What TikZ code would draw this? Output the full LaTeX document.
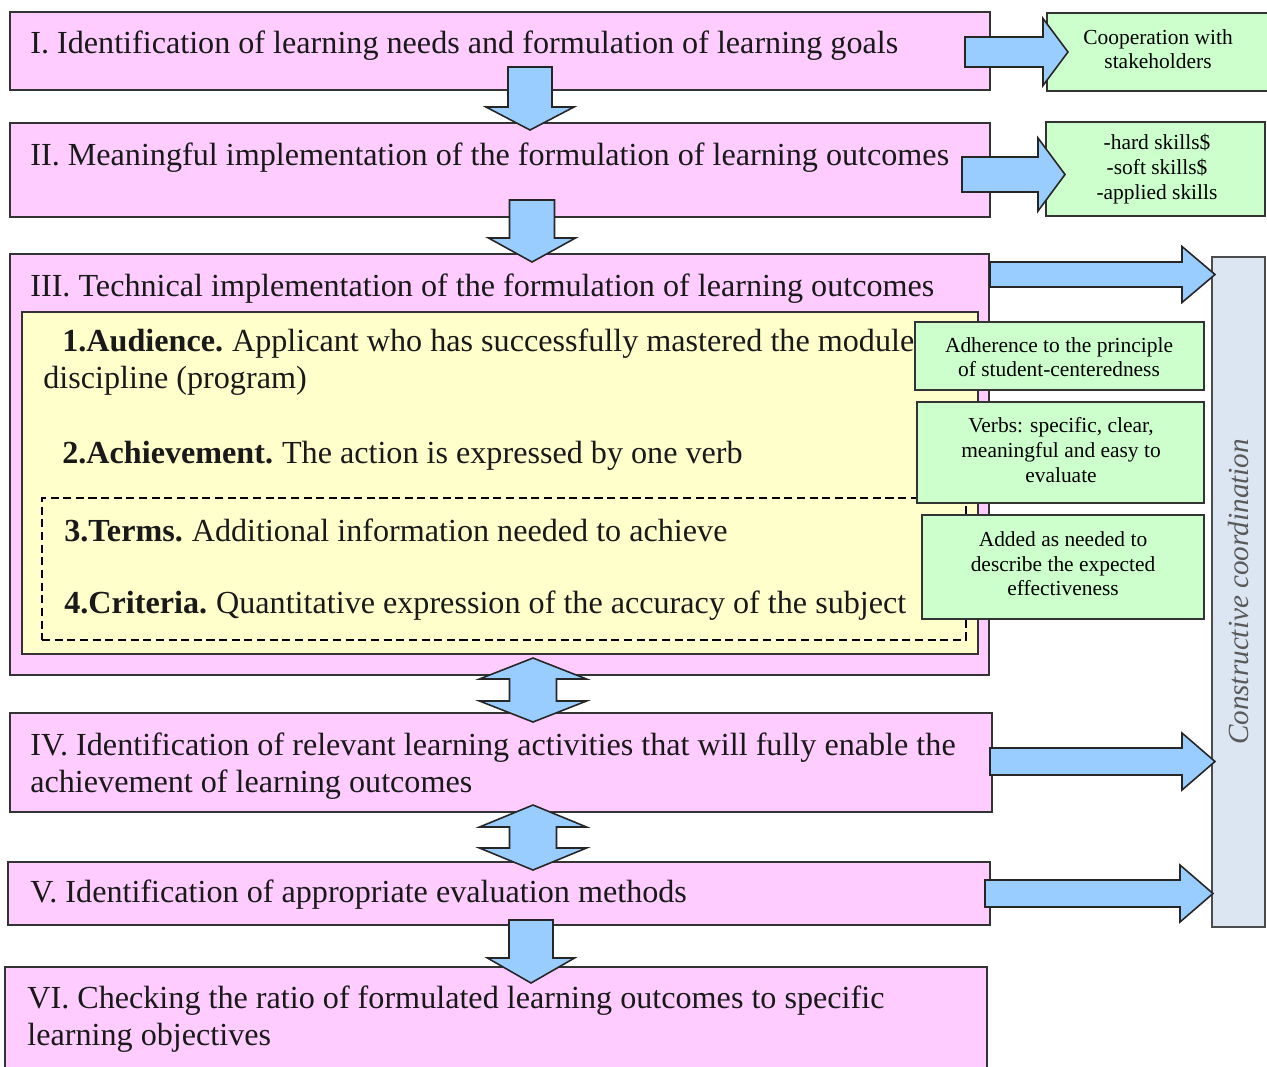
\documentclass[tikz,border=0pt]{standalone}
\usepackage{fontspec}
\setmainfont{Liberation Serif}
\usepackage{xcolor}
\usetikzlibrary{positioning, fit, calc}

\definecolor{stagepink}{HTML}{FFCCFF}
\definecolor{partyellow}{HTML}{FFFFCC}
\definecolor{notegreen}{HTML}{CCFFCC}
\definecolor{arrowblue}{HTML}{99CCFF}
\definecolor{barblue}{HTML}{DCE6F2}

\tikzset{
	stage/.style={draw=black!80, fill=stagepink, line width=1.1pt, inner sep=0pt},
	parts/.style={draw=black!80, fill=partyellow, line width=1.1pt, inner sep=0pt},
	optional/.style={draw=black, dash pattern=on 4.6pt off 2.6pt, line width=1.5pt, inner sep=0pt},
	note/.style={draw=black!80, fill=notegreen, line width=1.1pt, inner sep=0pt},
	notetext/.style={inner sep=0pt, align=center, text=black, font=\fontsize{12.2}{14}\selectfont},
	coordbar/.style={draw=black!70, fill=barblue, line width=1.1pt, inner sep=0pt},
	stagetext/.style={anchor=west, inner sep=0pt, align=left, text=black!90,
		font=\fontsize{18.3}{20.8}\selectfont},
	blockarrow/.style={draw=black!85, fill=arrowblue, line width=0.9pt, line join=miter}
}

% block arrows: tail, tip, shaft half width, head half width, head length
\newcommand{\downblock}[5]{
	\draw[blockarrow] ($(#1)+(-#3,0)$) -- ($(#1)+(#3,0)$) -- ($(#2)+(#3,-#5)$) -- ($(#2)+(#4,-#5)$)
		-- (#2) -- ($(#2)+(-#4,-#5)$) -- ($(#2)+(-#3,-#5)$) -- cycle;}
\newcommand{\rightblock}[5]{
	\draw[blockarrow] ($(#1)+(0,-#3)$) -- ($(#2)+(-#5,-#3)$) -- ($(#2)+(-#5,-#4)$)
		-- (#2) -- ($(#2)+(-#5,#4)$) -- ($(#2)+(-#5,#3)$) -- ($(#1)+(0,#3)$) -- cycle;}
\newcommand{\bothblock}[5]{
	\draw[blockarrow] (#1) -- ($(#1)+(#4,#5)$) -- ($(#1)+(#3,#5)$) -- ($(#2)+(#3,-#5)$) -- ($(#2)+(#4,-#5)$)
		-- (#2) -- ($(#2)+(-#4,-#5)$) -- ($(#2)+(-#3,-#5)$) -- ($(#1)+(-#3,#5)$) -- ($(#1)+(-#4,#5)$) -- cycle;}

\begin{document}
\begin{tikzpicture}[x=0.02cm, y=-0.02cm]
	\useasboundingbox[fill=white] (0,0) rectangle (1267,1066);

	% stages
	\node[stage, fit={(10,12) (990,90)}] (stageI) {};
	\node[stage, fit={(10,123) (990,217)}] (stageII) {};
	\node[stage, fit={(10,254) (989,675)}] (stageIII) {};
	\node[parts, fit={(22,312) (978,654)}] (parts) {};
	\node[optional, fit={(42,498) (966,640)}] (optional) {};
	\node[stage, fit={(10,713) (992,812)}] (stageIV) {};
	\node[stage, fit={(8,862) (990,925)}] (stageV) {};
	\node[stage, fit={(5,967) (987,1075)}] (stageVI) {};

	\node[stagetext] (textI) at (30,46) {I. Identification of learning needs and formulation of learning goals};
	\node[stagetext] (textII) at (30,158) {II. Meaningful implementation of the formulation of learning outcomes};
	\node[stagetext] (textIII) at (30,289) {III. Technical implementation of the formulation of learning outcomes};
	\node[stagetext] (audience) at (43,362) {\hspace*{0.38cm}\textbf{1.Audience.}\hspace{-1pt} Applicant who has successfully mastered the module\\discipline (program)};
	\node[stagetext] (achievement) at (62,456) {\textbf{2.Achievement.}\hspace{-1pt} The action is expressed by one verb};
	\node[stagetext] (terms) at (64,530) {\textbf{3.Terms.}\hspace{-1pt} Additional information needed to achieve};
	\node[stagetext] (criteria) at (64,606) {\textbf{4.Criteria.}\hspace{-1pt} Quantitative expression of the accuracy of the subject};
	\node[stagetext] (textIV) at (30,766) {IV. Identification of relevant learning activities that will fully enable the\\achievement of learning outcomes};
	\node[stagetext] (textV) at (30,895) {V. Identification of appropriate evaluation methods};
	\node[stagetext] (textVI) at (27,1019) {VI. Checking the ratio of formulated learning outcomes to specific\\learning objectives};

	% side notes
	\node[note, fit={(1047,13) (1268,91)}] (partners) {};
	\node[note, fit={(1046,122) (1265,216)}] (skills) {};
	\node[note, fit={(915,322) (1204,390)}] (adherence) {};
	\node[note, fit={(917,402) (1204,503)}] (verbs) {};
	\node[note, fit={(922,515) (1204,619)}] (added) {};
	\node[notetext] (partnerstext) at (1158,49) {Cooperation with\\stakeholders};
	\node[notetext] (skillstext) at (1157,169) {-hard skills\$\\-soft skills\$\\-applied skills};
	\node[notetext] (adherencetext) at (1059,357) {Adherence to the principle\\of student-centeredness};
	\node[notetext] (verbstext) at (1061,450) {Verbs: specific, clear,\\meaningful and easy to\\evaluate};
	\node[notetext] (addedtext) at (1063,564) {Added as needed to\\describe the expected\\effectiveness};

	\node[coordbar, fit={(1212,257) (1265,927)}] (coordination) {};
	\node[rotate=90, inner sep=0pt, text=black!65, font=\fontsize{16.6}{18}\selectfont\itshape] (coordlabel)
		at (coordination.center) {Constructive coordination};

	% arrows between stages
	\coordinate (d1s) at (530,67);
	\coordinate (d1e) at (530,130);
	\coordinate (d2s) at (532,200);
	\coordinate (d2e) at (532,262);
	\coordinate (d3s) at (531,920);
	\coordinate (d3e) at (531,983);
	\coordinate (b1s) at (533,658);
	\coordinate (b1e) at (533,722);
	\coordinate (b2s) at (533,805);
	\coordinate (b2e) at (533,870);
	\downblock{d1s}{d1e}{22}{44}{23}
	\downblock{d2s}{d2e}{22.5}{43.5}{24}
	\downblock{d3s}{d3e}{22}{43.5}{25}
	\bothblock{b1s}{b1e}{23.5}{53.5}{21}
	\bothblock{b2s}{b2e}{23.5}{53.5}{22}

	% arrows to the side
	\coordinate (r1s) at (965,52);
	\coordinate (r1e) at (1068,52);
	\coordinate (r2s) at (962,174.5);
	\coordinate (r2e) at (1065,174.5);
	\coordinate (r3s) at (990,274.5);
	\coordinate (r3e) at (1215,274.5);
	\coordinate (r4s) at (990,761.5);
	\coordinate (r4e) at (1215,761.5);
	\coordinate (r5s) at (985,893.5);
	\coordinate (r5e) at (1213,893.5);
	\rightblock{r1s}{r1e}{15}{33.5}{25}
	\rightblock{r2s}{r2e}{17.5}{36.5}{27}
	\rightblock{r3s}{r3e}{12.5}{28}{33}
	\rightblock{r4s}{r4e}{13.5}{28.5}{33}
	\rightblock{r5s}{r5e}{13.5}{28.5}{33}
\end{tikzpicture}
\end{document}
